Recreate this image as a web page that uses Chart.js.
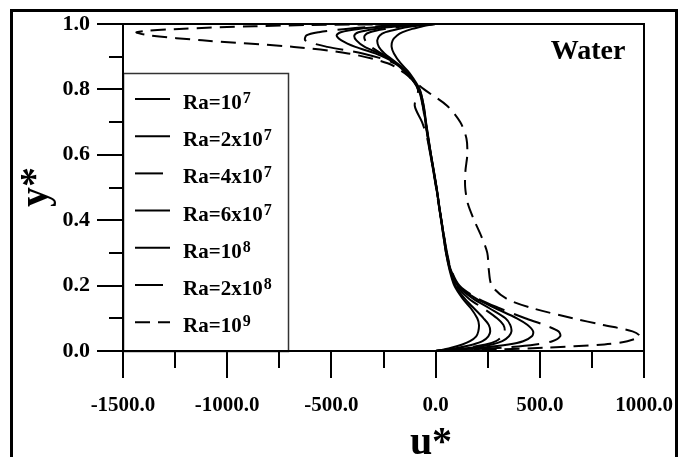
<!DOCTYPE html>
<html>
<head>
<meta charset="utf-8">
<script src="https://cdn.jsdelivr.net/npm/chart.js@4.4.1/dist/chart.umd.min.js"></script>
<style>
  body { margin: 0; background: #fff; }
</style>
</head>
<body>
<canvas id="velChart" width="692" height="457"></canvas>
<script>
// y* positions shared by all profiles
const yStar = [0, 0.005, 0.01, 0.02, 0.03, 0.045, 0.06, 0.08, 0.1, 0.13, 0.16, 0.2,
  0.25, 0.3, 0.35, 0.4, 0.45, 0.5, 0.55, 0.6, 0.65, 0.7, 0.75, 0.8, 0.85, 0.88,
  0.91, 0.93, 0.95, 0.965, 0.975, 0.985, 0.993, 0.997, 1.0];

// u* for each Rayleigh number
const uRa1e7 = [0, 40, 75, 128, 165, 195, 205, 208, 200, 170, 130, 90,
  66, 50, 38, 27, 16, 5, -8, -22, -35, -47, -58, -76, -125, -168,
  -200, -211, -206, -185, -158, -112, -62, -32, 0];
const uRa2e7 = [0, 60, 110, 180, 225, 253, 262, 255, 230, 185, 140, 95,
  68, 50, 38, 26, 15, 4, -9, -23, -36, -48, -60, -80, -135, -185,
  -245, -272, -280, -268, -240, -180, -110, -58, 0];
const uRa4e7 = [0, 80, 150, 240, 290, 320, 332, 325, 295, 230, 160, 100,
  70, 52, 40, 28, 16, 4, -10, -25, -40, -65, -100, -85, -138, -190,
  -260, -310, -338, -340, -315, -240, -150, -78, 0];
const uRa6e7 = [0, 90, 170, 270, 320, 352, 364, 358, 335, 260, 180, 105,
  70, 52, 40, 28, 16, 4, -9, -22, -34, -46, -57, -78, -135, -188,
  -270, -340, -380, -390, -370, -290, -180, -92, 0];
const uRa1e8 = [0, 120, 220, 350, 420, 462, 468, 440, 390, 290, 195, 110,
  72, 53, 40, 27, 15, 3, -10, -23, -36, -48, -60, -80, -138, -192,
  -290, -385, -452, -475, -455, -370, -230, -120, 0];
const uRa2e8 = [0, 170, 320, 480, 560, 598, 590, 520, 430, 310, 205, 115,
  74, 55, 41, 27, 14, 2, -11, -24, -37, -50, -62, -83, -142, -198,
  -350, -520, -625, -620, -560, -430, -280, -150, 0];
const uRa1e9 = [0, 300, 520, 810, 920, 980, 945, 800, 660, 470, 340, 270,
  255, 248, 220, 185, 155, 142, 143, 152, 148, 118, 55, -55, -150, -230,
  -420, -680, -1120, -1370, -1435, -1230, -870, -600, 0];

const legendBase = ['Ra=10', 'Ra=2x10', 'Ra=4x10', 'Ra=6x10', 'Ra=10', 'Ra=2x10', 'Ra=10'];
const legendExp = ['7', '7', '7', '7', '8', '8', '9'];
const xTicksMinor = [-1250, -750, -250, 250, 750];
const yTicksMinor = [0.1, 0.3, 0.5, 0.7, 0.9];

const profiles = [uRa1e7, uRa2e7, uRa4e7, uRa6e7, uRa1e8, uRa2e8, uRa1e9];
const dashes = [[], [], [28, 10], [], [], [28, 10], [15, 8]];
const SERIF = '"Liberation Serif", "Times New Roman", serif';

const datasets = profiles.map((u, i) => ({
  label: legendBase[i] + '^' + legendExp[i],
  data: u.map((v, k) => ({ x: v, y: yStar[k] })),
  showLine: true,
  borderColor: '#000',
  borderWidth: 2,
  borderDash: dashes[i],
  pointRadius: 0,
  tension: 0.3,
  fill: false
}));

// frame, minor ticks, legend and titles
const decorations = {
  id: 'decorations',
  afterDatasetsDraw(chart) {
    const { ctx } = chart;
    ctx.save();
    ctx.fillStyle = '#fff';
    ctx.fillRect(124, 74, 164, 276);
    ctx.strokeStyle = '#333';
    ctx.lineWidth = 1.5;
    ctx.strokeRect(123.5, 73.5, 165, 278);
    ctx.strokeStyle = '#000';
    ctx.fillStyle = '#000';
    ctx.textBaseline = 'alphabetic';
    chart.data.datasets.forEach((ds, i) => {
      const yy = 102 + i * 37.2;
      ctx.lineWidth = 2;
      ctx.setLineDash(ds.borderDash);
      ctx.beginPath();
      ctx.moveTo(135, yy - 3);
      ctx.lineTo(170, yy - 3);
      ctx.stroke();
      ctx.setLineDash([]);
      ctx.font = 'bold 21px ' + SERIF;
      ctx.textAlign = 'left';
      ctx.fillText(legendBase[i], 183, yy + 7);
      const w = ctx.measureText(legendBase[i]).width;
      ctx.font = 'bold 16px ' + SERIF;
      ctx.fillText(legendExp[i], 183 + w + 1, yy + 1);
    });
    ctx.restore();
  },
  afterDraw(chart) {
    const { ctx, chartArea: a, scales: { x, y } } = chart;
    ctx.save();
    ctx.strokeStyle = '#000';
    ctx.lineWidth = 2;
    ctx.beginPath();
    xTicksMinor.forEach(v => {
      const px = Math.round(x.getPixelForValue(v));
      ctx.moveTo(px, a.bottom);
      ctx.lineTo(px, a.bottom + 17);
    });
    yTicksMinor.forEach(v => {
      const py = Math.round(y.getPixelForValue(v));
      ctx.moveTo(a.left, py);
      ctx.lineTo(a.left - 14, py);
    });
    ctx.stroke();
    ctx.strokeRect(a.left, a.top, a.right - a.left, a.bottom - a.top);

    ctx.lineWidth = 3;
    ctx.beginPath();
    ctx.moveTo(11.5, 457);
    ctx.lineTo(11.5, 10.5);
    ctx.lineTo(676.5, 10.5);
    ctx.lineTo(676.5, 457);
    ctx.stroke();

    ctx.fillStyle = '#000';
    ctx.textAlign = 'center';
    ctx.textBaseline = 'alphabetic';
    ctx.font = 'bold 28px ' + SERIF;
    ctx.fillText('Water', 588, 59);
    ctx.font = 'bold 40px ' + SERIF;
    ctx.fillText('u*', 431, 454);
    ctx.translate(37, 187);
    ctx.rotate(-Math.PI / 2);
    ctx.textBaseline = 'middle';
    ctx.fillText('y*', 0, 0);
    ctx.restore();
  }
};

const ctx = document.getElementById('velChart').getContext('2d');
new Chart(ctx, {
  type: 'scatter',
  data: { datasets },
  options: {
    responsive: false,
    animation: false,
    layout: { padding: { top: 24, right: 48, left: 0, bottom: 0 } },
    plugins: {
      legend: { display: false },
      tooltip: { enabled: false }
    },
    scales: {
      x: {
        type: 'linear',
        min: -1500,
        max: 1000,
        afterFit: s => { s.height = 106; },
        ticks: {
          stepSize: 500,
          color: '#000',
          padding: 15,
          maxRotation: 0,
          autoSkip: false,
          font: { family: SERIF, size: 21, weight: 'bold' },
          callback: v => v.toFixed(1)
        },
        grid: { drawOnChartArea: false, tickLength: 27, color: '#000', lineWidth: 2 },
        border: { display: true, color: '#000', width: 2 }
      },
      y: {
        type: 'linear',
        min: 0,
        max: 1,
        afterFit: s => { s.width = 123; },
        ticks: {
          stepSize: 0.2,
          color: '#000',
          padding: 7,
          font: { family: SERIF, size: 22, weight: 'bold' },
          callback: v => v.toFixed(1)
        },
        grid: { drawOnChartArea: false, tickLength: 26, color: '#000', lineWidth: 2 },
        border: { display: true, color: '#000', width: 2 }
      }
    }
  },
  plugins: [decorations]
});
</script>
</body>
</html>
